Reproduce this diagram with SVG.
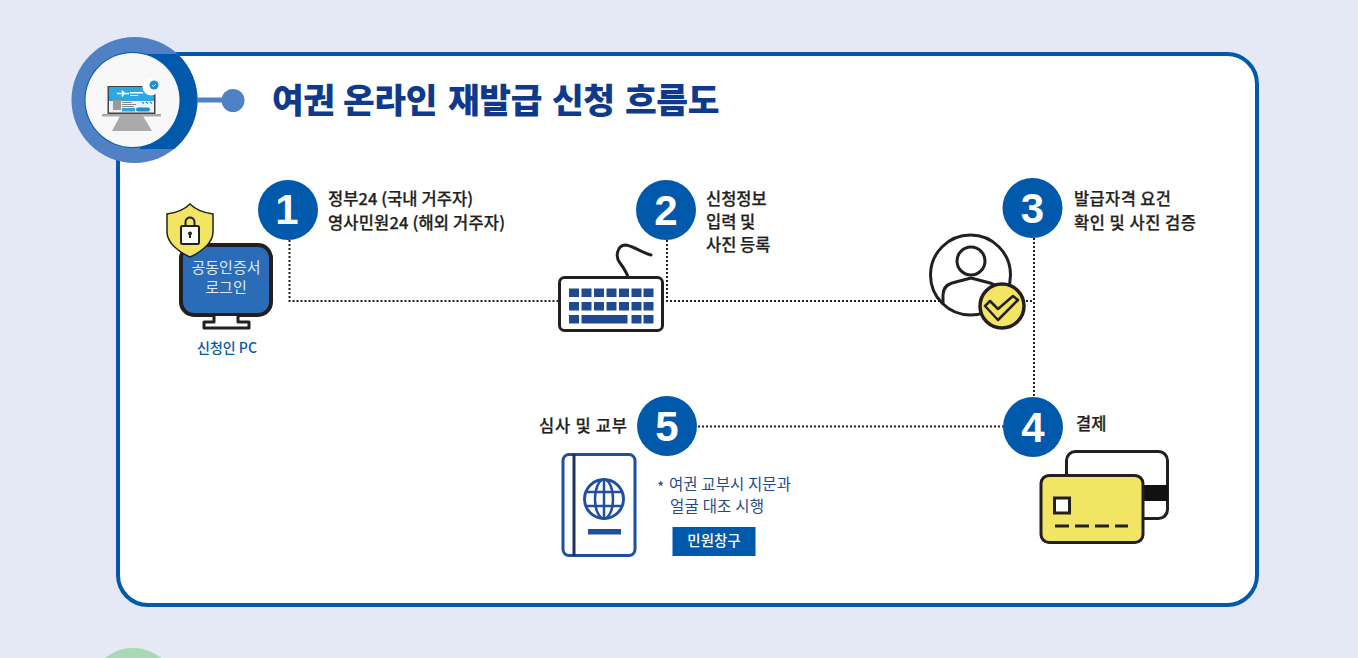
<svg xmlns="http://www.w3.org/2000/svg" width="1358" height="658" viewBox="0 0 1358 658">
<style>
text{font-family:"Noto Sans CJK KR","Noto Sans",sans-serif}
.lb{font-size:16.500px;font-weight:500;fill:#231f20;stroke:#231f20;stroke-width:.25px}
.num{font-family:"Liberation Sans",Arial,sans-serif;font-size:42px;font-weight:700;fill:#fff;text-anchor:middle}
.stepc{fill:#0059ab}
.dot{fill:none;stroke:#231f20;stroke-width:2;stroke-dasharray:2 2}
.blk{fill:none;stroke:#231f20;stroke-linejoin:round;stroke-linecap:round}
.key{fill:#1f4a8f}
.pp{fill:none;stroke:#1f4fa0;stroke-width:3}
.note{font-size:15.500px;font-weight:400;fill:#1f4a8f}
</style>
<defs><clipPath id="dk"><rect x="140" y="54" width="70" height="95"/></clipPath></defs>
<rect width="1358" height="658" fill="#e4e9f5"/>
<circle cx="133" cy="693" r="45" fill="#a9d9b4"/>
<g id="card"><rect x="118" y="54" width="1139" height="551" rx="30" fill="#fff" stroke="#0059ab" stroke-width="4"/></g>
<g id="header">
<circle cx="134.500" cy="100" r="63" fill="#4f81c4"/>
<circle cx="134.500" cy="100" r="63" fill="#0059ab" clip-path="url(#dk)"/>
<circle cx="132.500" cy="100" r="48" fill="#0059ab"/>
<circle cx="132.500" cy="100" r="47" fill="#f8f8f9"/>
<path d="M197 100H225" stroke="#4f81c4" stroke-width="5"/>
<circle cx="233" cy="100.500" r="11.500" fill="#4f81c4"/>
<path d="M120 116H143L152 131H112Z" fill="#aaa"/>
<rect x="102" y="114" width="59" height="2.500" fill="#aaa"/>
<rect x="107.500" y="86" width="48" height="28" fill="#444"/>
<rect x="109" y="87" width="45" height="14" fill="#2ea7e0"/>
<rect x="109" y="101" width="45" height="11.500" fill="#eef1f5"/>
<path d="M117 93.500H129M122 90.500L124 93.500L122 96.500" stroke="#fff" stroke-width="1.500" fill="none"/>
<rect x="130" y="92" width="13" height="1.500" fill="#fff"/>
<rect x="130" y="95" width="8" height="1" fill="#fff"/>
<rect x="113" y="100" width="8" height="10" fill="#999"/>
<rect x="122" y="102" width="10" height="1" fill="#888"/>
<rect x="122" y="104" width="14" height="1" fill="#888"/>
<rect x="122" y="106" width="12" height="1" fill="#888"/>
<rect x="122" y="108" width="13" height="3.500" fill="#2ea7e0"/>
<rect x="136" y="107.500" width="14" height="4" rx="2" fill="#1b8fd0"/>
<path d="M142 102l2 1.500M146 102l2 1.500M150 102l2 1.500" stroke="#1b8fd0" stroke-width="1.200"/>
<circle cx="151" cy="87" r="8.500" fill="#fff"/>
<circle cx="154" cy="85" r="4.500" fill="#1b8fd0"/>
<path d="M152 85l1.500 1.500l2.500-2.500" stroke="#fff" stroke-width="1" fill="none"/>
<text y="113" font-size="34.500" font-weight="900" fill="#0f3a8c" letter-spacing="-.4"><tspan x="272">여권</tspan> <tspan x="343">온라인</tspan> <tspan x="448">재발급</tspan> <tspan x="552">신청</tspan> <tspan x="625">흐름도</tspan></text>
</g>
<g id="connectors">
<path class="dot" d="M289.500 240V301H558"/>
<path class="dot" d="M667 240V301H942"/>
<path class="dot" d="M1026 301H1034"/>
<path class="dot" d="M1034 238V397"/>
<path class="dot" d="M698 426.500H1003"/>
</g>
<g id="node-pc">
<rect x="181" y="245" width="90" height="70" rx="13" fill="#2b6cb8" stroke="#231f20" stroke-width="4"/>
<path d="M214 316V322H204V328H249V322H238V316" fill="#fff" stroke="#231f20" stroke-width="3" stroke-linejoin="round"/>
<path d="M190 204C196 210 205 213 213 214V232C213 243 201 252 190 257C179 252 167 243 167 232V214C175 213 184 210 190 204Z" fill="#f2e564" stroke="#231f20" stroke-width="1.500"/>
<rect x="181" y="226" width="18" height="18" rx="1.500" fill="#fff" stroke="#231f20" stroke-width="2"/>
<path class="blk" stroke-width="2" d="M185.500 226V222C185.500 216 194.500 216 194.500 222V226"/>
<path d="M188 233.500a2 2 0 1 1 4 0q0 1-1 1.500v3h-2v-3q-1-.5-1-1.500Z" fill="#231f20"/>
<text x="226" y="273" font-size="15" fill="#dfe9f6" text-anchor="middle">공동인증서</text>
<text x="226" y="293" font-size="15" fill="#dfe9f6" text-anchor="middle">로그인</text>
<text x="227" y="353" font-size="14" font-weight="500" fill="#0059ab" text-anchor="middle">신청인 PC</text>
</g>
<g id="step-1">
<circle class="stepc" cx="288" cy="210" r="30"/>
<text class="num" x="287" y="224">1</text>
<text class="lb" x="328" y="205" textLength="145">정부24 (국내 거주자)</text>
<text class="lb" x="328" y="228.500" textLength="177">영사민원24 (해외 거주자)</text>
</g>
<g id="node-keyboard">
<path class="blk" stroke-width="3" d="M651 255C640 252 632 245 625 245C617 246 615 257 620 263C623 267 626 271 628 277"/>
<rect x="559.500" y="277.500" width="103" height="53" rx="5" fill="#fff" stroke="#231f20" stroke-width="3"/>
<g class="key">
<rect x="569" y="288.500" width="10" height="8.500"/><rect x="581.500" y="288.500" width="10" height="8.500"/><rect x="594" y="288.500" width="10" height="8.500"/><rect x="606.500" y="288.500" width="10" height="8.500"/><rect x="619" y="288.500" width="10" height="8.500"/><rect x="631.500" y="288.500" width="10" height="8.500"/><rect x="643.500" y="288.500" width="10" height="8.500"/>
<rect x="569" y="302" width="10" height="8.500"/><rect x="581.500" y="302" width="10" height="8.500"/><rect x="594" y="302" width="10" height="8.500"/><rect x="606.500" y="302" width="10" height="8.500"/><rect x="619" y="302" width="10" height="8.500"/><rect x="631.500" y="302" width="10" height="8.500"/><rect x="643.500" y="302" width="10" height="8.500"/>
<rect x="569" y="315" width="10" height="8.500"/><rect x="581.500" y="315" width="46" height="8.500"/><rect x="631.500" y="315" width="10" height="8.500"/><rect x="643.500" y="315" width="10" height="8.500"/>
</g>
</g>
<g id="step-2">
<circle class="stepc" cx="666" cy="210" r="30"/>
<text class="num" x="666" y="225">2</text>
<text class="lb" x="706" y="205">신청정보</text>
<text class="lb" x="706" y="228">입력 및</text>
<text class="lb" x="706" y="251">사진 등록</text>
</g>
<g id="node-person">
<circle cx="970.500" cy="275" r="40" fill="none" stroke="#231f20" stroke-width="3"/>
<circle cx="971" cy="261" r="14" fill="#fff" stroke="#231f20" stroke-width="3"/>
<path class="blk" stroke-width="3" d="M943 303V295C943 289 946 285 952 283L971 278L990 283C996 285 1000 288 1002 292"/>
<circle cx="1002" cy="306" r="22" fill="#f2e564" stroke="#231f20" stroke-width="3.500"/>
<path class="blk" stroke-width="2.500" d="M985 306L990 301L998 309L1013 296L1018 300L998 320Z"/>
</g>
<g id="step-3">
<circle class="stepc" cx="1032.500" cy="208" r="30"/>
<text class="num" x="1032.500" y="223">3</text>
<text class="lb" x="1074" y="204.500" textLength="97">발급자격 요건</text>
<text class="lb" x="1074" y="228.500" textLength="122">확인 및 사진 검증</text>
</g>
<g id="step-4">
<circle class="stepc" cx="1033" cy="427" r="30"/>
<text class="num" x="1033" y="442">4</text>
<text class="lb" x="1076" y="430">결제</text>
</g>
<g id="node-cardicon">
<rect x="1066.500" y="451.500" width="101" height="67" rx="9" fill="#fff" stroke="#231f20" stroke-width="3"/>
<rect x="1140" y="485" width="28" height="16" fill="#111"/>
<rect x="1041" y="475.500" width="102" height="67" rx="8" fill="#f2e564" stroke="#231f20" stroke-width="3"/>
<rect x="1054.500" y="498" width="15" height="15" fill="#fff" stroke="#231f20" stroke-width="3"/>
<path d="M1055 526H1128" stroke="#231f20" stroke-width="3" stroke-dasharray="14 6"/>
</g>
<g id="step-5">
<circle class="stepc" cx="667" cy="426" r="30"/>
<text class="num" x="667" y="441">5</text>
<text class="lb" x="539" y="432" textLength="88">심사 및 교부</text>
</g>
<g id="node-passport">
<rect x="563" y="454.500" width="72" height="101" rx="6" class="pp"/>
<path d="M574 454V556" stroke="#1c2f66" stroke-width="3"/>
<circle cx="604" cy="499" r="19.500" class="pp"/>
<ellipse cx="604" cy="499" rx="9" ry="19.500" class="pp" style="stroke-width:2.500"/>
<path d="M604 480V518M586 492H622M586 506H622" class="pp" style="stroke-width:2.500"/>
<rect x="588" y="529" width="33" height="5.500" fill="#1f4fa0"/>
<text class="note" x="657" y="493">*</text>
<text class="note" x="669" y="490" textLength="122">여권 교부시 지문과</text>
<text class="note" x="670" y="512" textLength="94">얼굴 대조 시행</text>
<rect x="672.500" y="527" width="83" height="29" fill="#0059ab"/>
<text x="714" y="546" font-size="14.500" font-weight="500" fill="#fff" text-anchor="middle">민원창구</text>
</g>
</svg>
